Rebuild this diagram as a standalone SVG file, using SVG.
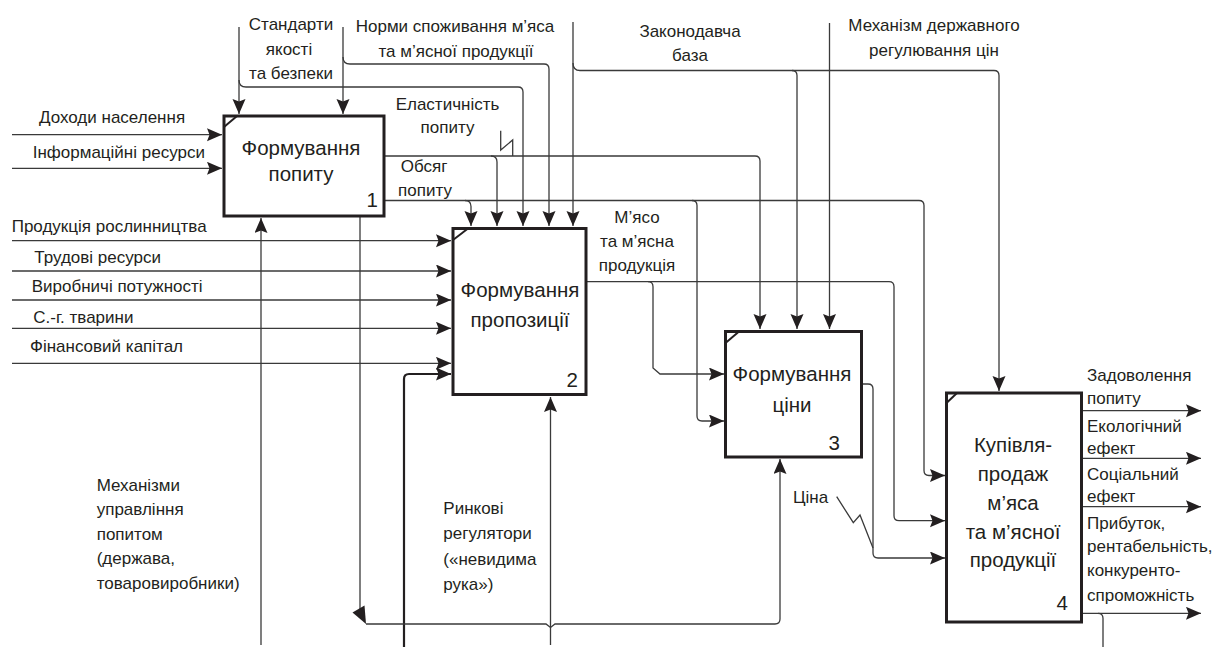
<svg xmlns="http://www.w3.org/2000/svg" width="1217" height="647" viewBox="0 0 1217 647">
<style>
.bg{fill:#ffffff}
.box{fill:#ffffff;stroke:#231f20;stroke-width:3}
.mark{stroke:#231f20;stroke-width:2;fill:none}
.c{fill:none;stroke:#3a3a3a;stroke-width:1.3}
.thick{fill:none;stroke:#231f20;stroke-width:2.2}
.t{font-family:"Liberation Sans",Arial,sans-serif;font-size:17px;fill:#231f20}
.bt{font-family:"Liberation Sans",Arial,sans-serif;font-size:20.5px;fill:#231f20}
.m{text-anchor:middle}
.e{text-anchor:end}
</style>
<defs>
<marker id="ah" markerUnits="userSpaceOnUse" markerWidth="16" markerHeight="14" refX="15" refY="6.5" orient="auto">
<path d="M0,0 L15,6.5 L0,13 L2.5,6.5 Z" fill="#231f20"/>
</marker>
</defs>
<rect class="bg" x="0" y="0" width="1217" height="647"/>

<g id="connectors">
<!-- inputs to box 1 -->
<path class="c" d="M12,134.7 H222" marker-end="url(#ah)"/>
<path class="c" d="M12,168.3 H222" marker-end="url(#ah)"/>
<!-- inputs to box 2 -->
<path class="c" d="M12,240.7 H451" marker-end="url(#ah)"/>
<path class="c" d="M12,271 H451" marker-end="url(#ah)"/>
<path class="c" d="M12,300 H451" marker-end="url(#ah)"/>
<path class="c" d="M12,328.3 H451" marker-end="url(#ah)"/>
<path class="c" d="M12,363.3 H451" marker-end="url(#ah)"/>
<path class="thick" d="M404,647 V379 Q404,374 409,374 H451" marker-end="url(#ah)"/>
<!-- mechanisms from bottom -->
<path class="c" d="M261,645 V218" marker-end="url(#ah)"/>
<path class="c" d="M550.5,645 V397" marker-end="url(#ah)"/>
<!-- Стандарти -->
<path class="c" d="M239,27 V114" marker-end="url(#ah)"/>
<path class="c" d="M239,80 Q239,87 246,87 H518 Q523,87 523,92 V226" marker-end="url(#ah)"/>
<!-- Норми -->
<path class="c" d="M343,27 V114" marker-end="url(#ah)"/>
<path class="c" d="M343,57 Q343,64 350,64 H544 Q549,64 549,69 V226" marker-end="url(#ah)"/>
<!-- Законодавча база -->
<path class="c" d="M573,22 V226" marker-end="url(#ah)"/>
<path class="c" d="M573,63 Q573,70.5 580,70.5 H994 Q999,70.5 999,75.5 V391" marker-end="url(#ah)"/>
<path class="c" d="M792,70.5 Q797,70.5 797,75.5 V329" marker-end="url(#ah)"/>
<!-- Механізм державного регулювання цін -->
<path class="c" d="M829.5,23 V329" marker-end="url(#ah)"/>
<!-- Еластичність попиту -->
<path class="c" d="M385,156 H755 Q760,156 760,161 V329" marker-end="url(#ah)"/>
<path class="c" d="M491,156 Q497,156 497,162 V226" marker-end="url(#ah)"/>
<path class="c" d="M500.7,130.7 V150 L512.7,140 V156"/>
<!-- Обсяг попиту -->
<path class="c" d="M385,200.5 H919 Q924,200.5 924,205.5 V470.5 Q924,475.5 929,475.5 H945" marker-end="url(#ah)"/>
<path class="c" d="M465,200.5 Q471,200.5 471,206.5 V226" marker-end="url(#ah)"/>
<path class="c" d="M692,200.5 Q697,200.5 697,205.5 V416 Q697,421 702,421 H724" marker-end="url(#ah)"/>
<!-- М'ясо та м'ясна продукція -->
<path class="c" d="M587,281.7 H889 Q894,281.7 894,286.7 V515.7 Q894,520.7 899,520.7 H945" marker-end="url(#ah)"/>
<path class="c" d="M648,281.7 Q653,281.7 653,286.7 V368 L660,374 H724" marker-end="url(#ah)"/>
<!-- Ціна -->
<path class="c" d="M862,384 H868 Q873,384 873,389 V553 Q873,558 878,558 H945" marker-end="url(#ah)"/>
<path class="c" d="M836.7,496.7 L853.3,522.7 L860,515 L873,548"/>
<!-- outputs of box 4 -->
<path class="c" d="M1082,410.7 H1201" marker-end="url(#ah)"/>
<path class="c" d="M1082,458.3 H1201" marker-end="url(#ah)"/>
<path class="c" d="M1082,506.7 H1201" marker-end="url(#ah)"/>
<path class="c" d="M1082,613.3 H1201" marker-end="url(#ah)"/>
<path class="c" d="M1098,613.3 Q1103,613.3 1103,618.3 V647"/>
<!-- bottom loop -->
<path class="c" d="M360,217 V612"/>
<polygon points="352.5,612.5 364.5,605.5 366,624" fill="#231f20"/>
<path class="c" d="M366,624 H546 L550.5,627.5 L555,624 H775 Q780,624 780,619 V459" marker-end="url(#ah)"/>
</g>

<g id="node1">
<rect class="box" x="224" y="116" width="160" height="100"/>
<path class="mark" d="M224,127 L237,116"/>
<text class="bt m" x="301" y="155">Формування</text>
<text class="bt m" x="301" y="181">попиту</text>
<text class="bt e" x="378" y="207">1</text>
</g>

<g id="node2">
<rect class="box" x="453" y="228.5" width="133" height="166"/>
<path class="mark" d="M453,240 L468,228.5"/>
<text class="bt m" x="520" y="297">Формування</text>
<text class="bt m" x="520" y="327">пропозиції</text>
<text class="bt e" x="578" y="387">2</text>
</g>

<g id="node3">
<rect class="box" x="725.5" y="331.5" width="136" height="125.5"/>
<path class="mark" d="M725.5,343 L739,331.5"/>
<text class="bt m" x="792" y="381">Формування</text>
<text class="bt m" x="792" y="411.5">ціни</text>
<text class="bt e" x="840" y="450">3</text>
</g>

<g id="node4">
<rect class="box" x="946.5" y="393" width="135" height="229"/>
<path class="mark" d="M946.5,403 L957,393"/>
<text class="bt m" x="1013" y="451.5">Купівля-</text>
<text class="bt m" x="1013" y="481">продаж</text>
<text class="bt m" x="1013" y="510">м’яса</text>
<text class="bt m" x="1013" y="538.5">та м’ясної</text>
<text class="bt m" x="1013" y="567">продукції</text>
<text class="bt e" x="1068" y="610">4</text>
</g>

<g id="labels">
<text class="t m" x="291" y="30">Стандарти</text>
<text class="t m" x="289" y="54.5">якості</text>
<text class="t m" x="291" y="78.5">та безпеки</text>
<text class="t m" x="455" y="32">Норми споживання м’яса</text>
<text class="t m" x="456" y="56.5">та м’ясної продукції</text>
<text class="t m" x="690" y="36.5">Законодавча</text>
<text class="t m" x="690" y="61">база</text>
<text class="t m" x="934" y="31">Механізм державного</text>
<text class="t m" x="934" y="56">регулювання цін</text>
<text class="t m" x="447.5" y="110">Еластичність</text>
<text class="t m" x="447.5" y="133">попиту</text>
<text class="t m" x="424" y="172">Обсяг</text>
<text class="t m" x="425" y="196">попиту</text>
<text class="t m" x="637" y="222.5">М’ясо</text>
<text class="t m" x="637" y="246.5">та м’ясна</text>
<text class="t m" x="637" y="271">продукція</text>
<text class="t" x="39" y="122.5">Доходи населення</text>
<text class="t" x="32.7" y="158">Інформаційні ресурси</text>
<text class="t" x="11.7" y="231.5">Продукція рослинництва</text>
<text class="t" x="34.3" y="262.5">Трудові ресурси</text>
<text class="t" x="31.7" y="291.5">Виробничі потужності</text>
<text class="t" x="33.3" y="323">С.-г. тварини</text>
<text class="t" x="30" y="351.8">Фінансовий капітал</text>
<text class="t" x="96.7" y="490.8">Механізми</text>
<text class="t" x="96.7" y="515.3">управління</text>
<text class="t" x="96.7" y="539.8">попитом</text>
<text class="t" x="96.7" y="564.3">(держава,</text>
<text class="t" x="96.7" y="588.8">товаровиробники)</text>
<text class="t" x="443.3" y="514">Ринкові</text>
<text class="t" x="443.3" y="539">регулятори</text>
<text class="t" x="443.3" y="564.5">(«невидима</text>
<text class="t" x="443.3" y="590">рука»)</text>
<text class="t" x="793" y="502.5">Ціна</text>
<text class="t" x="1087" y="381">Задоволення</text>
<text class="t" x="1087" y="404">попиту</text>
<text class="t" x="1087" y="432">Екологічний</text>
<text class="t" x="1087" y="453.5">ефект</text>
<text class="t" x="1087" y="480">Соціальний</text>
<text class="t" x="1087" y="502">ефект</text>
<text class="t" x="1087" y="529">Прибуток,</text>
<text class="t" x="1087" y="552">рентабельність,</text>
<text class="t" x="1087" y="576">конкуренто-</text>
<text class="t" x="1087" y="601">спроможність</text>
</g>
</svg>
